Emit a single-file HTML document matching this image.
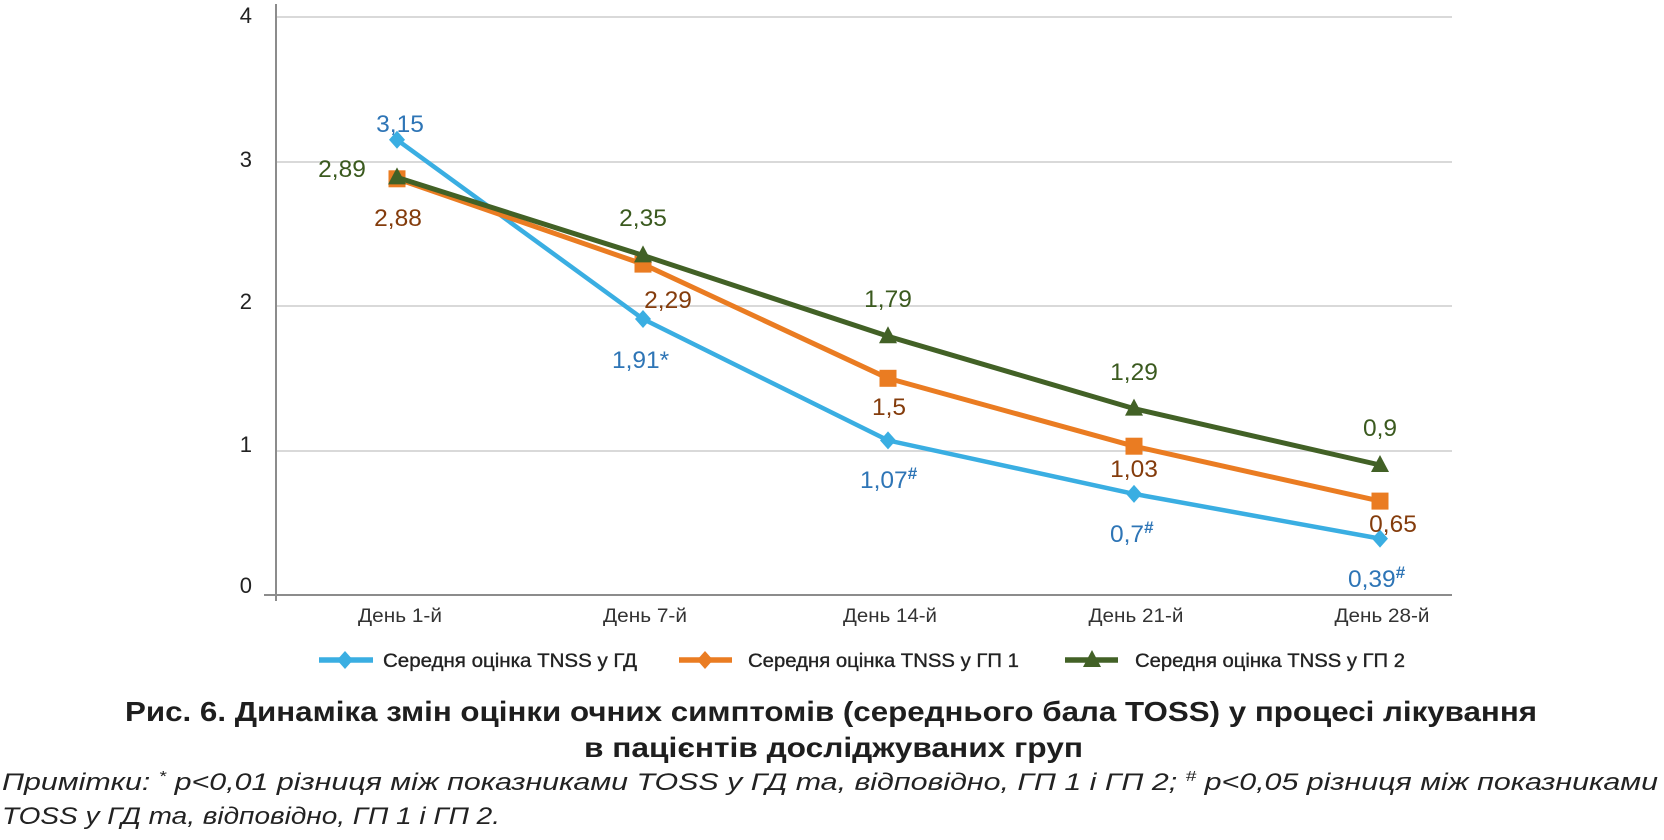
<!DOCTYPE html>
<html>
<head>
<meta charset="utf-8">
<style>
html,body{margin:0;padding:0;background:#fff;}
svg{display:block;}
text{font-family:"Liberation Sans","DejaVu Sans",sans-serif;}
</style>
</head>
<body>
<svg width="1664" height="840" viewBox="0 0 1664 840" xmlns="http://www.w3.org/2000/svg">
<rect width="1664" height="840" fill="#fff"/>
<!-- gridlines -->
<g stroke="#d9d9d9" stroke-width="2">
<line x1="277" y1="17" x2="1452" y2="17"/>
<line x1="277" y1="162" x2="1452" y2="162"/>
<line x1="277" y1="306" x2="1452" y2="306"/>
<line x1="277" y1="451" x2="1452" y2="451"/>
</g>
<!-- axes -->
<line x1="276" y1="4" x2="276" y2="601" stroke="#8c8c8c" stroke-width="2"/>
<line x1="264" y1="595" x2="1452" y2="595" stroke="#8c8c8c" stroke-width="2"/>
<!-- y labels -->
<g font-size="22" fill="#222" text-anchor="end">
<text x="252" y="23">4</text>
<text x="252" y="167">3</text>
<text x="252" y="309">2</text>
<text x="252" y="452">1</text>
<text x="252" y="593">0</text>
</g>
<!-- x labels -->
<g font-size="19.5" fill="#333" text-anchor="middle">
<text x="400" y="622" textLength="84" lengthAdjust="spacingAndGlyphs">День 1-й</text>
<text x="645" y="622" textLength="84" lengthAdjust="spacingAndGlyphs">День 7-й</text>
<text x="890" y="622" textLength="94" lengthAdjust="spacingAndGlyphs">День 14-й</text>
<text x="1136" y="622" textLength="95" lengthAdjust="spacingAndGlyphs">День 21-й</text>
<text x="1382" y="622" textLength="95" lengthAdjust="spacingAndGlyphs">День 28-й</text>
</g>
<!-- blue series -->
<polyline points="397,139.8 643,319 888,440.4 1134,493.9 1380,538.6" fill="none" stroke="#3aaee2" stroke-width="4.5" stroke-linejoin="round"/>
<g fill="#3aaee2">
<polygon points="397,130.8 405,139.8 397,148.8 389,139.8"/>
<polygon points="643,310 651,319 643,328 635,319"/>
<polygon points="888,431.4 896,440.4 888,449.4 880,440.4"/>
<polygon points="1134,484.9 1142,493.9 1134,502.9 1126,493.9"/>
<polygon points="1380,529.6 1388,538.6 1380,547.6 1372,538.6"/>
</g>
<!-- orange series -->
<polyline points="397,178.8 643,264.1 888,378.3 1134,446.2 1380,501.1" fill="none" stroke="#ea7c22" stroke-width="5" stroke-linejoin="round"/>
<g fill="#ea7c22">
<rect x="388.5" y="170.3" width="17" height="17"/>
<rect x="634.5" y="255.6" width="17" height="17"/>
<rect x="879.5" y="369.8" width="17" height="17"/>
<rect x="1125.5" y="437.7" width="17" height="17"/>
<rect x="1371.5" y="492.6" width="17" height="17"/>
</g>
<!-- green series -->
<polyline points="397,177.4 643,255.4 888,336.3 1134,408.6 1380,465" fill="none" stroke="#426126" stroke-width="5" stroke-linejoin="round"/>
<g fill="#426126">
<polygon points="397,167.4 406,184.4 388,184.4"/>
<polygon points="643,245.4 652,262.4 634,262.4"/>
<polygon points="888,326.3 897,343.3 879,343.3"/>
<polygon points="1134,398.6 1143,415.6 1125,415.6"/>
<polygon points="1380,455 1389,472 1371,472"/>
</g>
<!-- data labels -->
<g font-size="24.5">
<g fill="#2e75b6">
<text x="400" y="132" text-anchor="middle">3,15</text>
<text x="612" y="368">1,91*</text>
<text x="860" y="488">1,07<tspan font-size="17" font-weight="bold" dy="-9">#</tspan></text>
<text x="1110" y="542">0,7<tspan font-size="17" font-weight="bold" dy="-9">#</tspan></text>
<text x="1348" y="587">0,39<tspan font-size="17" font-weight="bold" dy="-9">#</tspan></text>
</g>
<g fill="#843c0c">
<text x="398" y="226" text-anchor="middle">2,88</text>
<text x="668" y="308" text-anchor="middle">2,29</text>
<text x="889" y="415" text-anchor="middle">1,5</text>
<text x="1134" y="477" text-anchor="middle">1,03</text>
<text x="1393" y="532" text-anchor="middle">0,65</text>
</g>
<g fill="#3b5a1f">
<text x="342" y="177" text-anchor="middle">2,89</text>
<text x="643" y="226" text-anchor="middle">2,35</text>
<text x="888" y="307" text-anchor="middle">1,79</text>
<text x="1134" y="380" text-anchor="middle">1,29</text>
<text x="1380" y="436" text-anchor="middle">0,9</text>
</g>
</g>
<!-- legend -->
<line x1="319" y1="660" x2="373" y2="660" stroke="#3aaee2" stroke-width="5.5"/>
<polygon points="345,651 353,660 345,669 337,660" fill="#3aaee2"/>
<text x="383" y="667" font-size="19.5" fill="#222" stroke="#222" stroke-width="0.35" textLength="254" lengthAdjust="spacingAndGlyphs">Середня оцінка TNSS у ГД</text>
<line x1="679" y1="660" x2="732" y2="660" stroke="#ea7c22" stroke-width="5.5"/>
<polygon points="705,651 713,660 705,669 697,660" fill="#ea7c22"/>
<text x="748" y="667" font-size="19.5" fill="#222" stroke="#222" stroke-width="0.35" textLength="271" lengthAdjust="spacingAndGlyphs">Середня оцінка TNSS у ГП 1</text>
<line x1="1065" y1="660" x2="1118" y2="660" stroke="#426126" stroke-width="5.5"/>
<polygon points="1092,650 1101,667 1083,667" fill="#426126"/>
<text x="1135" y="667" font-size="19.5" fill="#222" stroke="#222" stroke-width="0.35" textLength="270" lengthAdjust="spacingAndGlyphs">Середня оцінка TNSS у ГП 2</text>
<!-- caption -->
<g font-size="28" font-weight="bold" fill="#1e1e1e">
<text x="125" y="721" textLength="1412" lengthAdjust="spacingAndGlyphs">Рис. 6. Динаміка змін оцінки очних симптомів (середнього бала TOSS) у процесі лікування</text>
<text x="584" y="757" textLength="499" lengthAdjust="spacingAndGlyphs">в пацієнтів досліджуваних груп</text>
</g>
<!-- notes -->
<g font-size="24" font-style="italic" fill="#222">
<text x="2" y="790" textLength="1656" lengthAdjust="spacingAndGlyphs">Примітки: <tspan font-size="15" dy="-9">*</tspan><tspan dy="9"> p&lt;0,01 різниця між показниками TOSS у ГД та, відповідно, ГП 1 і ГП 2; </tspan><tspan font-size="15" dy="-9">#</tspan><tspan dy="9"> p&lt;0,05 різниця між показниками</tspan></text>
<text x="2" y="824" textLength="498" lengthAdjust="spacingAndGlyphs">TOSS у ГД та, відповідно, ГП 1 і ГП 2.</text>
</g>
</svg>
</body>
</html>
